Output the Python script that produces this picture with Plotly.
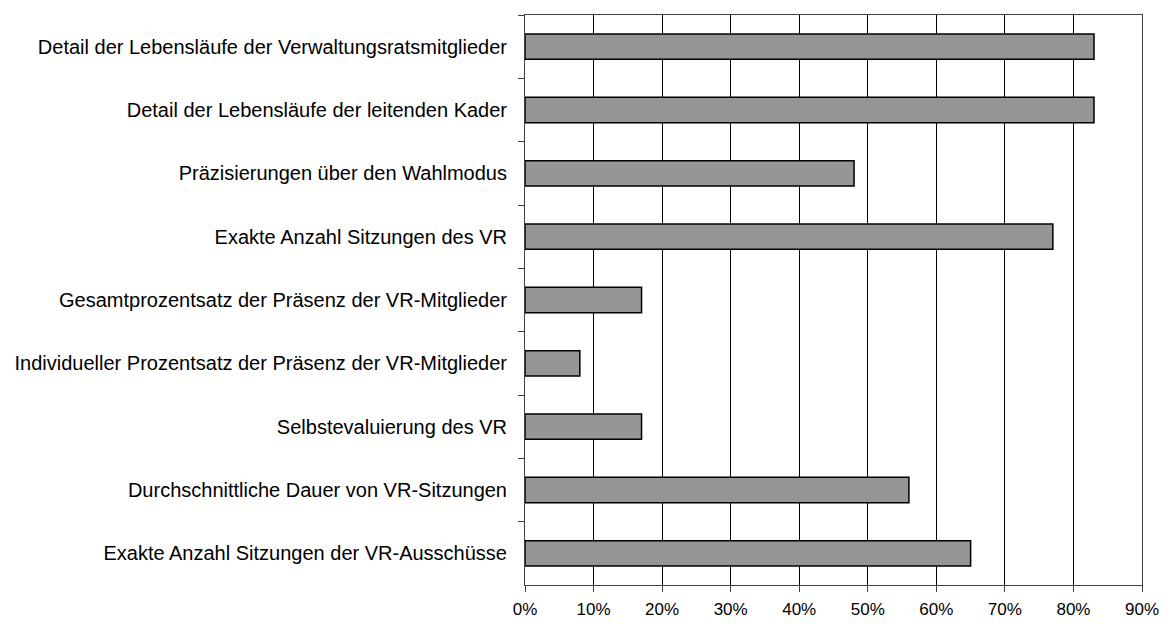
import plotly.graph_objects as go

# categories, top to bottom as in the chart
kategorien = [
    "Detail der Lebensläufe der Verwaltungsratsmitglieder",
    "Detail der Lebensläufe der leitenden Kader",
    "Präzisierungen über den Wahlmodus",
    "Exakte Anzahl Sitzungen des VR",
    "Gesamtprozentsatz der Präsenz der VR-Mitglieder",
    "Individueller Prozentsatz der Präsenz der VR-Mitglieder",
    "Selbstevaluierung des VR",
    "Durchschnittliche Dauer von VR-Sitzungen",
    "Exakte Anzahl Sitzungen der VR-Ausschüsse",
]
anteile = [0.83, 0.83, 0.48, 0.77, 0.17, 0.08, 0.17, 0.56, 0.65]

fig = go.Figure()
fig.add_trace(go.Bar(
    y=kategorien, x=anteile, orientation="h",
    width=0.4,
    marker=dict(color="#969696", line=dict(color="black", width=1.5)),
))

# page body adds 8px, so margins are shifted by that
fig.update_layout(
    width=1171, height=634,
    margin=dict(l=517, r=37, t=7, b=57),
    paper_bgcolor="white", plot_bgcolor="white",
    showlegend=False,
    font=dict(family="Liberation Sans, Arial, sans-serif", size=19, color="black"),
)
fig.update_xaxes(
    range=[0, 0.9], dtick=0.1, tickformat=".0%",
    showgrid=True, gridcolor="black", gridwidth=1,
    showline=True, linecolor="#404040", linewidth=1, mirror=True,
    ticks="outside", ticklen=6, tickcolor="#404040",
    tickfont=dict(size=17), ticklabelstandoff=3,
    zeroline=False,
)
fig.update_yaxes(
    categoryorder="array", categoryarray=kategorien, autorange="reversed",
    showgrid=False,
    showline=True, linecolor="#404040", linewidth=1, mirror=True,
    ticks="outside", ticklen=6, tickcolor="#404040", tickson="boundaries",
    tickfont=dict(size=20), ticklabelstandoff=13,
)

fig.write_html("out.html")
